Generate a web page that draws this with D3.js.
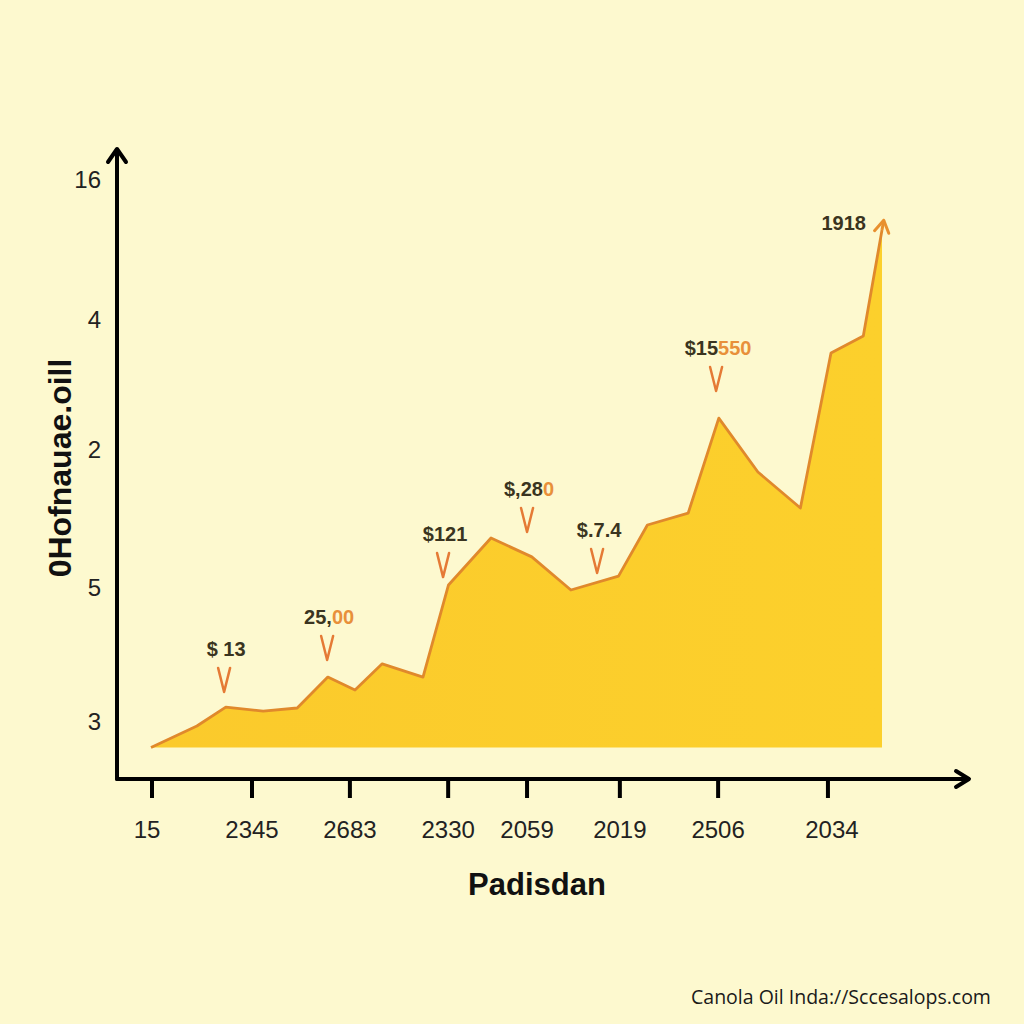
<!DOCTYPE html>
<meta charset="utf-8">
<style>
body { margin: 0; background: #fdf9cf; }
svg { display: block; font-family: "Liberation Sans", Arial, Helvetica, sans-serif; }
.tick-label { font-size: 24px; fill: #222; }
.note { font-size: 20px; font-weight: bold; fill: #3a3420; }
.note .hi { fill: #e8903a; }
</style>
<svg width="1024" height="1024" id="chart"></svg>
<script src="https://cdn.jsdelivr.net/npm/d3@7"></script>
<script>

// area series (x in period units, y in value units)
var periods = [1.0, 2.35, 3.2, 4.3, 5.3, 6.2, 7.0, 7.8, 9.0, 9.75, 11.0, 12.2, 13.35, 14.75, 15.6, 16.8, 17.7, 18.85, 20.1, 21.0, 21.95, 22.5];
var values  = [1.0, 1.68, 2.28, 2.15, 2.25, 3.23, 2.82, 3.65, 3.23, 6.15, 7.64, 7.04, 5.99, 6.43, 8.05, 8.43, 11.44, 9.73, 8.59, 13.5, 14.04, 17.4];
var baseValue = 1.0;

// axis ticks
var xTickPos = [1.03, 3.97, 6.85, 9.74, 12.06, 14.79, 17.68, 20.91];
var xTickLabels = ["15", "2345", "2683", "2330", "2059", "2019", "2506", "2034"];
var yTickPos = [18.99, 14.55, 10.43, 6.05, 1.81];
var yTickLabels = ["16", "4", "2", "5", "3"];

// callouts: arrow tip position + label (dark part, orange part)
var noteX = [3.15, 6.18, 9.59, 12.06, 14.12, 17.62];
var noteY = [2.76, 3.77, 6.40, 7.83, 6.53, 12.30];
var noteDark = ["$ 13", "25,", "$121", "$,28", "$.7.4", "$15"];
var noteHi   = ["", "00", "", "0", "", "550"];

var svg = d3.select("#chart");
svg.append("rect").attr("width", 1024).attr("height", 1024).attr("fill", "#fdf9cf");

var x = d3.scaleLinear().domain([0, 25]).range([117, 967]),
    y = d3.scaleLinear().domain([0, 20]).range([779, 148]);

var pts = periods.map(function(p, i) { return [p, values[i]]; });

var area = d3.area()
    .x(function(d) { return x(d[0]); })
    .y0(y(baseValue))
    .y1(function(d) { return y(d[1]); });

var line = d3.line()
    .x(function(d) { return x(d[0]); })
    .y(function(d) { return y(d[1]); });

var grad = svg.append("defs").append("linearGradient")
    .attr("id", "fillgrad").attr("x1", 0).attr("x2", 1).attr("y1", 0).attr("y2", 0);
grad.append("stop").attr("offset", "0%").attr("stop-color", "#fbca2c");
grad.append("stop").attr("offset", "100%").attr("stop-color", "#fcd02c");

svg.append("path")
    .datum(pts)
    .attr("d", area)
    .attr("fill", "url(#fillgrad)");

svg.append("path")
    .datum(pts)
    .attr("d", line)
    .attr("fill", "none")
    .attr("stroke", "#e0892c")
    .attr("stroke-width", 2.8)
    .attr("stroke-linejoin", "round");

// arrow head at the end of the series
var last = pts[pts.length - 1], prev = pts[pts.length - 2];
var ex = x(last[0]), ey = y(last[1]);
var ang = Math.atan2(ey - y(prev[1]), ex - x(prev[0]));
var tipX = ex + Math.cos(ang) * 10, tipY = ey + Math.sin(ang) * 10;
svg.append("path")
    .attr("d", "M" + ex + "," + ey + "L" + tipX + "," + tipY)
    .attr("stroke", "#e8902f").attr("stroke-width", 3);
svg.append("path")
    .attr("d", "M" + (tipX + Math.cos(ang + 2.6) * 14) + "," + (tipY + Math.sin(ang + 2.6) * 14) +
               "L" + tipX + "," + tipY +
               "L" + (tipX + Math.cos(ang - 2.6) * 14) + "," + (tipY + Math.sin(ang - 2.6) * 14))
    .attr("fill", "none").attr("stroke", "#e8902f").attr("stroke-width", 3)
    .attr("stroke-linecap", "round").attr("stroke-linejoin", "round");
svg.append("text").attr("class", "note")
    .attr("x", tipX - 40).attr("y", tipY + 10)
    .attr("text-anchor", "middle")
    .text("1918");

// axes
var axisG = svg.append("g").attr("stroke", "#000").attr("fill", "none")
    .attr("stroke-width", 4).attr("stroke-linecap", "round").attr("stroke-linejoin", "round");
axisG.append("path").attr("d", "M" + x(0) + "," + y(0) + "L" + x(0) + "," + 150);
axisG.append("path").attr("d", "M" + (x(0) - 9) + ",162L" + x(0) + ",149L" + (x(0) + 9) + ",162");
axisG.append("path").attr("d", "M" + x(0) + "," + y(0) + "L968," + y(0));
axisG.append("path").attr("d", "M956," + (y(0) - 8) + "L969," + y(0) + "L956," + (y(0) + 8));

var xt = svg.append("g");
xt.selectAll("line").data(xTickPos).enter().append("line")
    .attr("x1", function(d) { return x(d); }).attr("x2", function(d) { return x(d); })
    .attr("y1", y(0)).attr("y2", y(0) + 19)
    .attr("stroke", "#000").attr("stroke-width", 4);
xt.selectAll("text").data(xTickPos).enter().append("text")
    .attr("class", "tick-label")
    .attr("x", function(d, i) { return x(d) + (i === 0 ? -5 : (i === 7 ? 4 : 0)); })
    .attr("y", y(0) + 59)
    .attr("text-anchor", "middle")
    .text(function(d, i) { return xTickLabels[i]; });

svg.append("g").selectAll("text").data(yTickPos).enter().append("text")
    .attr("class", "tick-label")
    .attr("x", 101)
    .attr("y", function(d) { return y(d) + 8; })
    .attr("text-anchor", "end")
    .text(function(d, i) { return yTickLabels[i]; });

// titles
svg.append("text")
    .attr("transform", "translate(71,468) rotate(-90)")
    .attr("text-anchor", "middle")
    .style("font-size", "32px").style("font-weight", "bold").attr("fill", "#111")
    .text("0Hofnauae.oill");

svg.append("text")
    .attr("x", 537).attr("y", 895)
    .attr("text-anchor", "middle")
    .style("font-size", "31px").style("font-weight", "bold").attr("fill", "#111")
    .text("Padisdan");

svg.append("text")
    .attr("x", 841).attr("y", 1004)
    .attr("text-anchor", "middle")
    .style("font-family", "'Open Sans', 'Noto Sans', sans-serif")
    .style("font-size", "19.5px").attr("fill", "#1a1a1a")
    .text("Canola Oil  Inda://Sccesalops.com");

// callouts
var notes = svg.append("g");
noteX.forEach(function(nx, i) {
  var px = x(nx), py = y(noteY[i]);
  notes.append("path")
      .attr("d", "M" + (px - 6) + "," + (py - 24) + "L" + px + "," + py + "L" + (px + 6) + "," + (py - 24))
      .attr("fill", "none").attr("stroke", "#e57a35").attr("stroke-width", 2.5)
      .attr("stroke-linecap", "round").attr("stroke-linejoin", "round");
  var t = notes.append("text").attr("class", "note")
      .attr("x", px + 2).attr("y", py - 36)
      .attr("text-anchor", "middle");
  t.append("tspan").text(noteDark[i]);
  if (noteHi[i]) t.append("tspan").attr("class", "hi").text(noteHi[i]);
});

</script>
